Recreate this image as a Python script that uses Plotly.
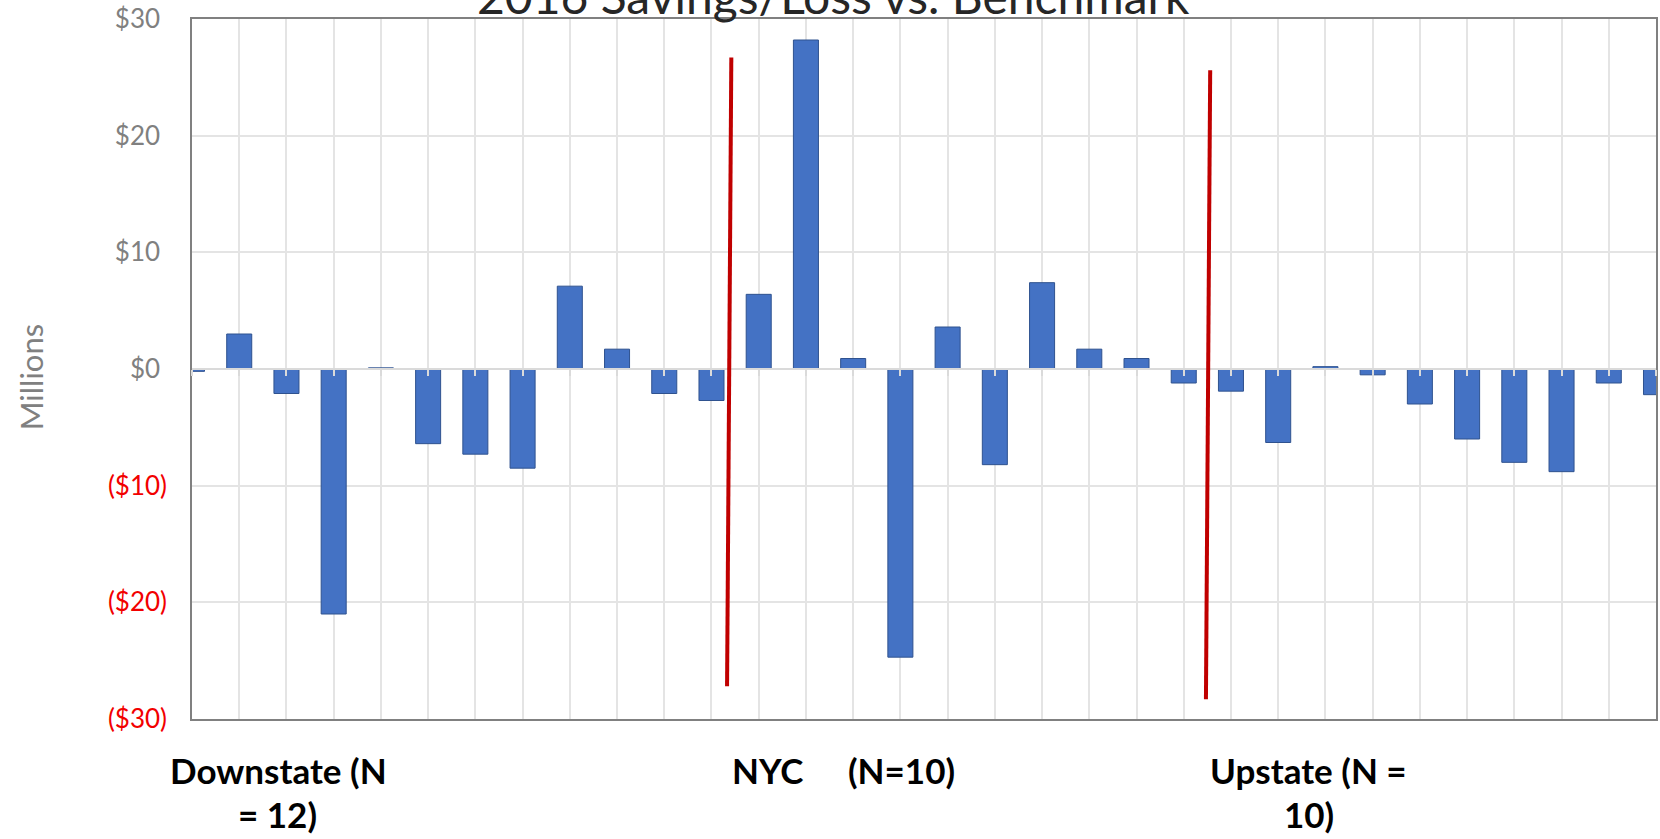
import plotly.graph_objects as go

# Savings (+) / loss (-) versus benchmark, $ millions, one bar per hospital
savings = [
    -0.2, 3.0, -2.1, -21.0, 0.1, -6.4, -7.3, -8.5, 7.1, 1.7, -2.1, -2.7,   # Downstate
    6.4, 28.2, 0.9, -24.7, 3.6, -8.2, 7.4, 1.7, 0.9, -1.2,                 # NYC
    -1.9, -6.3, 0.2, -0.5, -3.0, -6.0, -8.0, -8.8, -1.2, -2.2,             # Upstate
]
positions = list(range(len(savings)))

y_ticks = [30, 20, 10, 0, -10, -20, -30]
y_tick_labels = ["$30", "$20", "$10", "$0", "($10)", "($20)", "($30)"]

# Red dividers between the regional groups: (x_top, y_top, x_bottom, y_bottom)
dividers = [
    (11.42, 26.7, 11.33, -27.2),
    (21.56, 25.6, 21.47, -28.3),
]

title_text = "2016 Savings/Loss vs. Benchmark"
axis_title = "Millions"

# Figure / plot-area geometry in pixels
W, H = 1660, 839
L, R, T, B = 192, 2, 19, 120
PW, PH = W - L - R, H - T - B


def px_x(x):
    return (x - L) / PW


def px_y(y):
    return (H - B - y) / PH


FONT = "Lato"
GRAY = "#808080"
RED = "#F20000"


def tick_label(v, s):
    if v < 0:
        return f"<span style='color:{RED}'>{s}</span>"
    # positive values keep a hidden ")" so digits line up with the negatives
    return f"{s}<span style='color:rgba(0,0,0,0)'>)</span>"


fig = go.Figure()

fig.add_trace(go.Bar(
    x=positions,
    y=savings,
    width=0.53,
    marker=dict(color="#4472C4", line=dict(color="#2F528F", width=1)),
    showlegend=False,
    hoverinfo="y",
))

# Empty trace that carries the category axis drawn through $0
fig.add_trace(go.Scatter(x=[], y=[], xaxis="x2", showlegend=False, hoverinfo="skip"))

for xt, yt, xb, yb in dividers:
    fig.add_shape(type="line", xref="x", yref="y", x0=xt, y0=yt, x1=xb, y1=yb,
                  line=dict(color="#C00000", width=4), layer="above")

fig.update_layout(
    width=W, height=H,
    margin=dict(l=L, r=R, t=T, b=B),
    paper_bgcolor="white", plot_bgcolor="white",
    font=dict(family=FONT, color=GRAY),
    bargap=0.47,
    xaxis=dict(
        range=[0, len(savings) - 1], tick0=0, dtick=1,
        showgrid=True, gridcolor="#E4E4E4", gridwidth=1.5,
        showticklabels=False, ticks="", zeroline=False,
        showline=True, linecolor="#808080", linewidth=1.5, mirror=True,
    ),
    xaxis2=dict(
        overlaying="x", anchor="free", position=0.5, side="bottom",
        range=[0, len(savings) - 1], tick0=0, dtick=1,
        showgrid=False, zeroline=False, showticklabels=False,
        showline=True, linecolor="#DADADA", linewidth=2,
        ticks="outside", ticklen=6, tickwidth=2, tickcolor="#DADADA",
    ),
    yaxis=dict(
        range=[-30, 30],
        tickvals=y_ticks,
        ticktext=[tick_label(v, s) for v, s in zip(y_ticks, y_tick_labels)],
        tickfont=dict(family=FONT, size=26, color=GRAY),
        ticks="", ticklabelstandoff=18,
        showgrid=True, gridcolor="#E4E4E4", gridwidth=1.5,
        zeroline=False,
        showline=True, linecolor="#808080", linewidth=1.5, mirror=True,
    ),
)

annotations = [
    dict(text=title_text, x=px_x(834), y=px_y(-5), font=dict(size=48, color="#262626")),
    dict(text=axis_title, x=px_x(31), y=px_y(377), textangle=-90,
         font=dict(size=31, color=GRAY)),
]

group_lines = [
    ("Downstate (N", 279, 770), ("= 12)", 278, 814),
    ("NYC", 768, 770), ("(N=10)", 902, 770),
    ("Upstate (N =", 1310, 770), ("10)", 1311, 814),
]
for text, cx, cy in group_lines:
    annotations.append(dict(text=text, x=px_x(cx), y=px_y(cy),
                            font=dict(size=35, color="#000000", weight=700)))

for a in annotations:
    a.update(xref="paper", yref="paper", showarrow=False,
             xanchor="center", yanchor="middle")
    a["font"]["family"] = FONT
fig.update_layout(annotations=annotations)

fig.write_html("out.html")
